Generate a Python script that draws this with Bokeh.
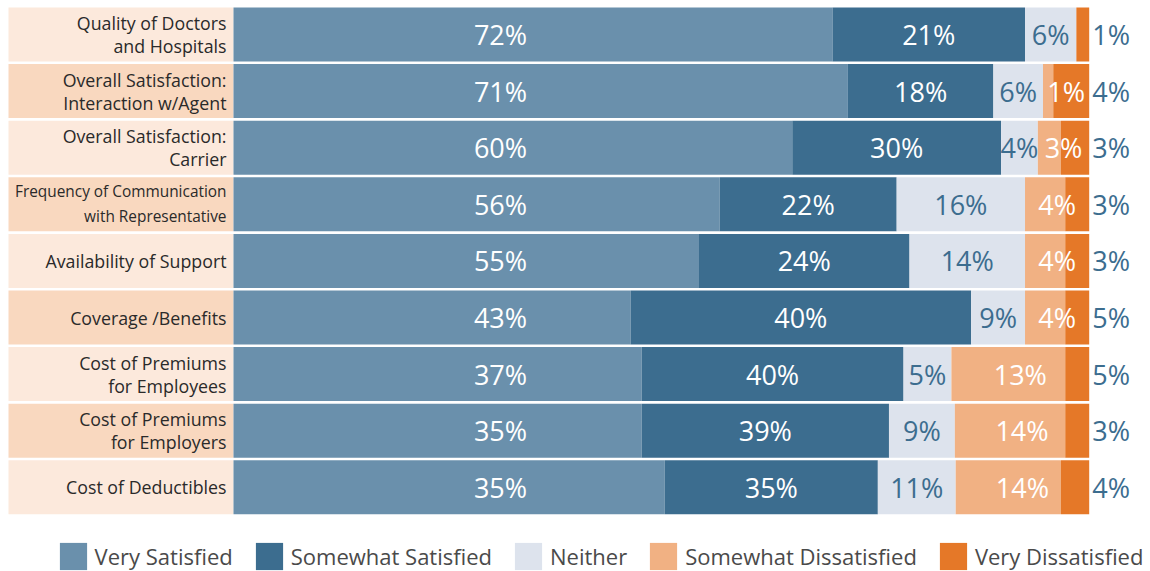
from bokeh.plotting import figure
from bokeh.models import Range1d, ColumnDataSource, Legend, LegendItem
from bokeh.core.properties import value
from bokeh.embed import file_html
from bokeh.resources import INLINE

# ---------------- data ----------------
categories = [
    "Quality of Doctors\nand Hospitals",
    "Overall Satisfaction:\nInteraction w/Agent",
    "Overall Satisfaction:\nCarrier",
    "Frequency of Communication\nwith Representative",
    "Availability of Support",
    "Coverage /Benefits",
    "Cost of Premiums\nfor Employees",
    "Cost of Premiums\nfor Employers",
    "Cost of Deductibles",
]
series_names = ["Very Satisfied", "Somewhat Satisfied", "Neither",
                "Somewhat Dissatisfied", "Very Dissatisfied"]

# segment widths as drawn (share of the bar)
very_satisfied = [70.0, 71.8, 65.3, 56.8, 54.4, 46.4, 47.7, 47.7, 50.4]
somewhat_satisfied = [22.5, 17.0, 24.4, 20.7, 24.6, 39.8, 30.6, 28.9, 24.9]
neither = [6.0, 5.8, 4.3, 15.0, 13.5, 6.3, 5.6, 7.7, 9.1]
somewhat_dissatisfied = [0.0, 1.2, 2.7, 4.7, 4.7, 4.7, 13.3, 12.9, 12.3]
very_dissatisfied = [1.5, 4.2, 3.3, 2.8, 2.8, 2.8, 2.8, 2.8, 3.3]

# printed labels
lbl_very_satisfied = ["72%", "71%", "60%", "56%", "55%", "43%", "37%", "35%", "35%"]
lbl_somewhat_satisfied = ["21%", "18%", "30%", "22%", "24%", "40%", "40%", "39%", "35%"]
lbl_neither = ["6%", "6%", "4%", "16%", "14%", "9%", "5%", "9%", "11%"]
lbl_somewhat_dissatisfied = ["", "1%", "3%", "4%", "4%", "4%", "13%", "14%", "14%"]
lbl_very_dissatisfied = ["1%", "4%", "3%", "3%", "3%", "5%", "5%", "3%", "4%"]

# ---------------- style ----------------
colors = ["#6a90ac", "#3c6d8f", "#dde3ed", "#f1b183", "#e57828"]
box_colors = ["#fce9dc", "#f9d8bf"]
FONT = "Open Sans"
n = len(categories)
rows = list(range(n))

W, H = 1150, 571
x_per_px = 100 / 855.7
x0 = -233 * x_per_px
pitch = 56.6
y_top = -34 / pitch
p = figure(width=W, height=H, output_backend="svg", toolbar_location=None,
           x_range=Range1d(x0, x0 + W * x_per_px),
           y_range=Range1d(y_top + H / pitch, y_top),
           min_border=0)
p.axis.visible = False
p.grid.visible = False
p.outline_line_color = None
p.background_fill_color = "white"
p.border_fill_color = "white"

bar_h = 54 / pitch

# category label boxes
p.hbar(y=rows, left=x0 + 8 * x_per_px, right=0, height=bar_h,
       fill_color=[box_colors[i % 2] for i in rows], line_color=None)

keys = ["vs", "ss", "ne", "sd", "vd"]
src = ColumnDataSource(dict(y=rows, vs=very_satisfied, ss=somewhat_satisfied,
                            ne=neither, sd=somewhat_dissatisfied, vd=very_dissatisfied))
renderers = p.hbar_stack(keys, y="y", height=bar_h, color=colors,
                         line_color=None, source=src)

# category text
long_lbl = [max(len(s) for s in c.split("\n")) > 24 for c in categories]
fsize = ["15.4px" if lg else "17.8px" for lg in long_lbl]
lheight = [1.19 if lg else 0.965 for lg in long_lbl]
p.text(x=[0] * n, y=rows, text=categories, x_offset=-7,
       text_align="right", text_baseline="middle",
       text_font=value(FONT), text_font_size=fsize,
       text_line_height=lheight, text_color="#2a2a2a")

# value labels
ends1 = [a + b for a, b in zip(very_satisfied, somewhat_satisfied)]
ends2 = [e + c for e, c in zip(ends1, neither)]
ends3 = [e + d for e, d in zip(ends2, somewhat_dissatisfied)]
ends4 = [e + v for e, v in zip(ends3, very_dissatisfied)]

vs_x = [31.2] * n
ss_x = [a + b / 2 for a, b in zip(very_satisfied, somewhat_satisfied)]
ne_x = [e + c / 2 for e, c in zip(ends1, neither)]
sd_x = [(e + t) / 2 for e, t in zip(ends2, ends4)]

LBL_SIZE = "27px"
lab_kw = dict(text_align="center", text_baseline="middle",
              text_font=value(FONT), text_font_size=LBL_SIZE)
p.text(x=vs_x, y=rows, text=lbl_very_satisfied, text_color="white", **lab_kw)
p.text(x=ss_x, y=rows, text=lbl_somewhat_satisfied, text_color="white", **lab_kw)
p.text(x=ne_x, y=rows, text=lbl_neither, text_color=colors[1], **lab_kw)
p.text(x=sd_x, y=rows, text=lbl_somewhat_dissatisfied, text_color="white", **lab_kw)
p.text(x=ends4, y=rows, text=lbl_very_dissatisfied, x_offset=3,
       text_align="left", text_baseline="middle",
       text_font=value(FONT), text_font_size=LBL_SIZE, text_color=colors[1])

legend = Legend(items=[LegendItem(label=nm, renderers=[r])
                       for nm, r in zip(series_names, renderers)],
                orientation="horizontal", location=(55.6, -1.5),
                glyph_width=34, glyph_height=34, label_standoff=5,
                spacing=19, padding=0, margin=0,
                label_text_font=FONT, label_text_font_size="22px",
                label_text_color="#4a4a4a",
                border_line_alpha=0, background_fill_alpha=0)
p.add_layout(legend)

open("out.html", "w").write(file_html(p, INLINE))
